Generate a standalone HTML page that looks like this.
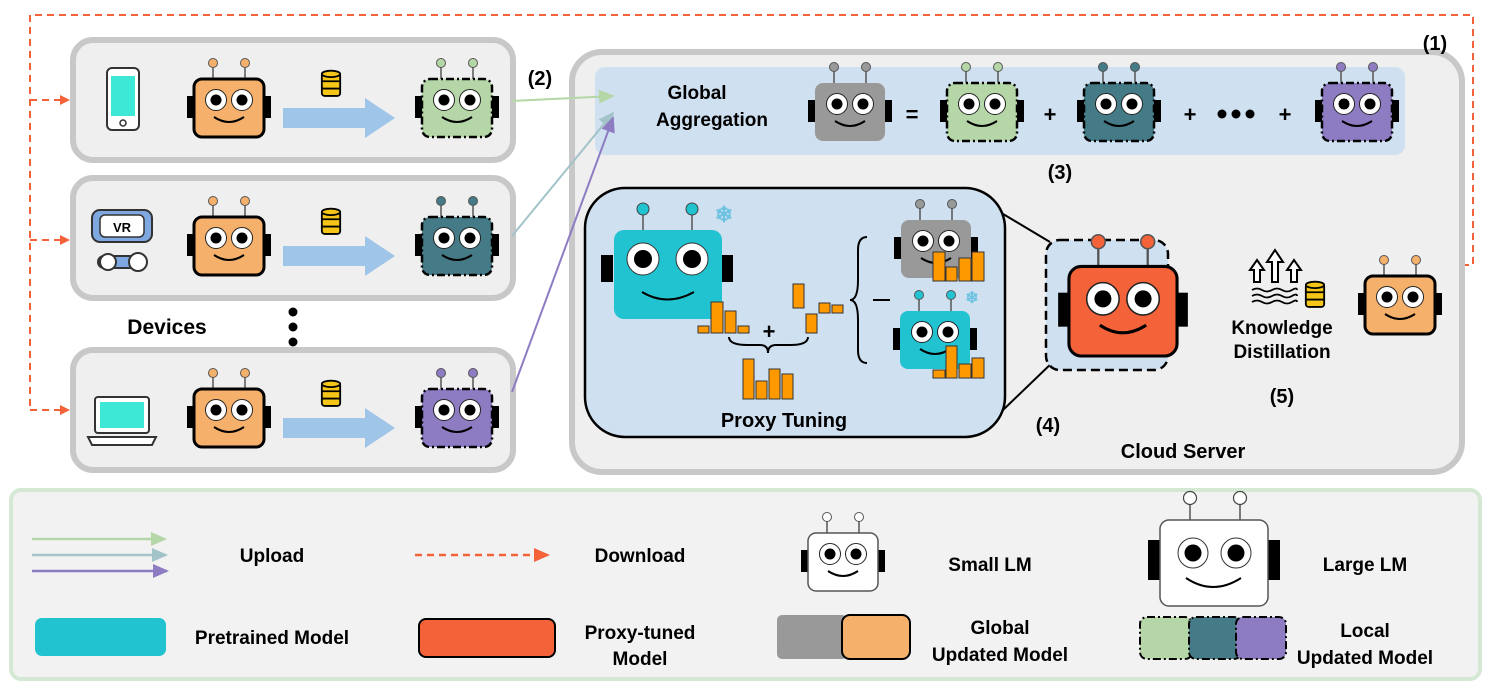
<!DOCTYPE html>
<html><head><meta charset="utf-8"><style>
html,body{margin:0;padding:0;background:#fff;width:1495px;height:691px;overflow:hidden}
text{font-family:"Liberation Sans",sans-serif;font-weight:bold;fill:#000}
</style></head><body>
<svg width="1495" height="691" viewBox="0 0 1495 691" xmlns="http://www.w3.org/2000/svg">
<defs>
<symbol id="r" viewBox="0 0 84 90">
 <rect x="0" y="38" width="7" height="22" fill="#000" stroke="none"/>
 <rect x="77" y="38" width="7" height="22" fill="#000" stroke="none"/>
 <line x1="26" y1="8" x2="26" y2="21" stroke="#555" stroke-width="1.5" stroke-dasharray="none"/>
 <line x1="58" y1="8" x2="58" y2="21" stroke="#555" stroke-width="1.5" stroke-dasharray="none"/>
 <circle cx="26" cy="5" r="4.5" stroke="#555" stroke-width="1" stroke-dasharray="none"/>
 <circle cx="58" cy="5" r="4.5" stroke="#555" stroke-width="1" stroke-dasharray="none"/>
 <rect x="7" y="21" width="70" height="58" rx="8"/>
 <circle cx="29" cy="42" r="10.5" fill="#fff" stroke="#222" stroke-width="1" stroke-dasharray="none"/>
 <circle cx="55" cy="42" r="10.5" fill="#fff" stroke="#222" stroke-width="1" stroke-dasharray="none"/>
 <circle cx="29" cy="42" r="5.5" fill="#000" stroke="none"/>
 <circle cx="55" cy="42" r="5.5" fill="#000" stroke="none"/>
 <path d="M27 59 Q42 69 57 59" fill="none" stroke="#000" stroke-width="2" stroke-dasharray="none"/>
</symbol>
<symbol id="db" viewBox="0 0 24 32">
 <rect x="2" y="4" width="20" height="25" rx="3" fill="#f5c518" stroke="#000" stroke-width="2"/>
 <ellipse cx="12" cy="5" rx="10" ry="3.5" fill="#f5c518" stroke="#000" stroke-width="2"/>
 <line x1="2" y1="13" x2="22" y2="13" stroke="#000" stroke-width="2"/>
 <line x1="2" y1="21" x2="22" y2="21" stroke="#000" stroke-width="2"/>
</symbol>
<marker id="ao" markerWidth="10" markerHeight="10" refX="8" refY="5" orient="auto" markerUnits="userSpaceOnUse"><path d="M0 0 L10 5 L0 10z" fill="#f4623a"/></marker>
<marker id="ag" markerWidth="16" markerHeight="14" refX="14" refY="7" orient="auto" markerUnits="userSpaceOnUse"><path d="M0 0 L16 7 L0 14z" fill="#b5d7a8"/></marker>
<marker id="at" markerWidth="16" markerHeight="14" refX="14" refY="7" orient="auto" markerUnits="userSpaceOnUse"><path d="M0 0 L16 7 L0 14z" fill="#a2c4c9"/></marker>
<marker id="ap" markerWidth="16" markerHeight="14" refX="14" refY="7" orient="auto" markerUnits="userSpaceOnUse"><path d="M0 0 L16 7 L0 14z" fill="#8e7cc3"/></marker>
<marker id="ao2" markerWidth="16" markerHeight="14" refX="14" refY="7" orient="auto" markerUnits="userSpaceOnUse"><path d="M0 0 L16 7 L0 14z" fill="#f4623a"/></marker>
</defs>

<!-- download dashed -->
<g fill="none" stroke="#f4623a" stroke-width="2" stroke-dasharray="7 5">
<path d="M1462 265 L1473 265 L1473 15 L30 15 L30 410"/>
<line x1="30" y1="100" x2="68" y2="100" marker-end="url(#ao)"/>
<line x1="30" y1="240" x2="68" y2="240" marker-end="url(#ao)"/>
<line x1="30" y1="410" x2="68" y2="410" marker-end="url(#ao)"/>
</g>

<!-- device boxes -->
<g fill="#efefef" stroke="#c8c8c8" stroke-width="6">
<rect x="73" y="40" width="440" height="120" rx="20"/>
<rect x="73" y="178" width="440" height="120" rx="20"/>
<rect x="73" y="350" width="440" height="120" rx="20"/>
</g>
<!-- phone -->
<rect x="107" y="68" width="32" height="62" rx="5" fill="#fff" stroke="#333" stroke-width="2"/>
<rect x="111" y="76" width="24" height="40" fill="#3ee8d6"/>
<circle cx="123" cy="123" r="3" fill="none" stroke="#333" stroke-width="1.5"/>
<!-- VR -->
<rect x="92" y="210" width="60" height="32" rx="8" fill="#7fa7e0" stroke="#333" stroke-width="2"/>
<rect x="100" y="215" width="44" height="22" rx="5" fill="#fff" stroke="#333" stroke-width="1.5"/>
<text x="122" y="232" font-size="13" text-anchor="middle">VR</text>
<rect x="98" y="256" width="44" height="12" rx="6" fill="#7fa7e0" stroke="#333" stroke-width="2"/>
<circle cx="108" cy="262" r="8" fill="#fff" stroke="#333" stroke-width="2"/>
<circle cx="138" cy="262" r="9" fill="#fff" stroke="#333" stroke-width="2"/>
<!-- laptop -->
<rect x="95" y="397" width="54" height="36" rx="3" fill="#fff" stroke="#333" stroke-width="2"/>
<rect x="100" y="402" width="44" height="26" fill="#3ee8d6"/>
<path d="M88 437 L156 437 L152 445 L92 445 Z" fill="#fff" stroke="#333" stroke-width="2"/>

<!-- rows -->
<g>
<use href="#r" x="187" y="58" width="84" height="90" fill="#f5b06b" stroke="#000" stroke-width="3"/>
<use href="#r" x="187" y="196" width="84" height="90" fill="#f5b06b" stroke="#000" stroke-width="3"/>
<use href="#r" x="187" y="368" width="84" height="90" fill="#f5b06b" stroke="#000" stroke-width="3"/>
<use href="#db" x="320" y="68" width="22" height="32"/>
<use href="#db" x="320" y="206" width="22" height="32"/>
<use href="#db" x="320" y="378" width="22" height="32"/>
<path d="M283 108 L365 108 L365 98 L395 118 L365 138 L365 128 L283 128Z" fill="#9fc5e8"/>
<path d="M283 246 L365 246 L365 236 L395 256 L365 276 L365 266 L283 266Z" fill="#9fc5e8"/>
<path d="M283 418 L365 418 L365 408 L395 428 L365 448 L365 438 L283 438Z" fill="#9fc5e8"/>
<use href="#r" x="415" y="58" width="84" height="90" fill="#b5d7a8" stroke="#000" stroke-width="2.5" stroke-dasharray="8 3 2 3"/>
<use href="#r" x="415" y="196" width="84" height="90" fill="#457b87" stroke="#000" stroke-width="2.5" stroke-dasharray="8 3 2 3"/>
<use href="#r" x="415" y="368" width="84" height="90" fill="#8e7cc3" stroke="#000" stroke-width="2.5" stroke-dasharray="8 3 2 3"/>
</g>
<text x="167" y="334" font-size="21" text-anchor="middle">Devices</text>
<circle cx="293" cy="312" r="4.5"/><circle cx="293" cy="327" r="4.5"/><circle cx="293" cy="342" r="4.5"/>
<text x="540" y="85" font-size="20" text-anchor="middle">(2)</text>

<!-- cloud -->
<rect x="572" y="52" width="890" height="420" rx="30" fill="#efefef" stroke="#c8c8c8" stroke-width="6"/>
<text x="1435" y="50" font-size="20" text-anchor="middle">(1)</text>
<rect x="595" y="67" width="810" height="88" rx="10" fill="#cfe0f0"/>
<text x="697" y="99" font-size="19" text-anchor="middle">Global</text>
<text x="712" y="126" font-size="19" text-anchor="middle">Aggregation</text>
<use href="#r" x="808" y="62" width="84" height="90" fill="#999" stroke="none"/>
<text x="912" y="122" font-size="22" text-anchor="middle" font-weight="normal">=</text>
<use href="#r" x="940" y="62" width="84" height="90" fill="#b5d7a8" stroke="#000" stroke-width="2.5" stroke-dasharray="8 3 2 3"/>
<text x="1050" y="122" font-size="22" text-anchor="middle" font-weight="normal">+</text>
<use href="#r" x="1077" y="62" width="84" height="90" fill="#457b87" stroke="#000" stroke-width="2.5" stroke-dasharray="8 3 2 3"/>
<text x="1190" y="122" font-size="22" text-anchor="middle" font-weight="normal">+</text>
<circle cx="1222" cy="114" r="4.5"/><circle cx="1236" cy="114" r="4.5"/><circle cx="1250" cy="114" r="4.5"/>
<text x="1285" y="122" font-size="22" text-anchor="middle" font-weight="normal">+</text>
<use href="#r" x="1315" y="62" width="84" height="90" fill="#8e7cc3" stroke="#000" stroke-width="2.5" stroke-dasharray="8 3 2 3"/>
<text x="1060" y="179" font-size="20" text-anchor="middle">(3)</text>

<!-- upload arrows -->
<line x1="512" y1="101" x2="613" y2="96" stroke="#b5d7a8" stroke-width="2" marker-end="url(#ag)"/>
<line x1="512" y1="236" x2="613" y2="113" stroke="#a2c4c9" stroke-width="2" marker-end="url(#at)"/>
<line x1="512" y1="392" x2="613" y2="118" stroke="#8e7cc3" stroke-width="2" marker-end="url(#ap)"/>

<!-- proxy tuning -->
<line x1="963" y1="190" x2="1050" y2="242" stroke="#000" stroke-width="2"/>
<line x1="1003" y1="410" x2="1055" y2="360" stroke="#000" stroke-width="2"/>
<rect x="585" y="188" width="420" height="249" rx="40" fill="#cfe0f0" stroke="#000" stroke-width="2.5"/>
<g>
 <rect x="601" y="255" width="12" height="27" fill="#000"/><rect x="721" y="255" width="12" height="27" fill="#000"/>
 <line x1="643" y1="214" x2="643" y2="230" stroke="#555" stroke-width="1.5"/><line x1="692" y1="214" x2="692" y2="230" stroke="#555" stroke-width="1.5"/>
 <circle cx="643" cy="209" r="6" fill="#22c3d0" stroke="#444"/><circle cx="692" cy="209" r="6" fill="#22c3d0" stroke="#444"/>
 <rect x="614" y="230" width="108" height="89" rx="10" fill="#22c3d0"/>
 <circle cx="643" cy="259" r="16" fill="#fff" stroke="#333"/><circle cx="692" cy="259" r="16" fill="#fff" stroke="#333"/>
 <circle cx="643" cy="259" r="9" fill="#000"/><circle cx="692" cy="259" r="9" fill="#000"/>
 <path d="M642 292 Q667 307 694 292" fill="none" stroke="#000" stroke-width="2"/>
</g>
<text x="724" y="222" font-size="22" style="fill:#6cc2e0" text-anchor="middle" font-weight="normal">❄</text>
<g fill="#f90" stroke="#333" stroke-width="1">
 <rect x="698" y="326" width="11" height="7"/><rect x="711" y="302" width="12" height="31"/><rect x="725" y="311" width="11" height="22"/><rect x="738" y="326" width="11" height="7"/>
 <rect x="793" y="284" width="11" height="24"/><rect x="806" y="314" width="11" height="19"/><rect x="819" y="303" width="11" height="10"/><rect x="832" y="305" width="11" height="8"/>
 <rect x="743" y="359" width="11" height="40"/><rect x="756" y="381" width="11" height="18"/><rect x="769" y="369" width="11" height="30"/><rect x="782" y="374" width="11" height="25"/>
</g>
<text x="769" y="339" font-size="22" text-anchor="middle" font-weight="normal">+</text>
<path d="M729 337 Q729 345 748 345 L760 345 Q768 345 768 353 Q768 345 776 345 L790 345 Q808 345 808 337" fill="none" stroke="#000" stroke-width="2"/>
<path d="M867 237 Q858 237 858 250 L858 280 Q858 300 850 300 Q858 300 858 320 L858 350 Q858 363 867 363" fill="none" stroke="#000" stroke-width="2"/>
<line x1="873" y1="300" x2="890" y2="300" stroke="#000" stroke-width="2"/>
<use href="#r" x="894" y="199" width="84" height="90" fill="#999" stroke="none"/>
<use href="#r" x="893" y="290" width="84" height="90" fill="#22c3d0" stroke="none"/>
<text x="972" y="303" font-size="16" style="fill:#6cc2e0" text-anchor="middle" font-weight="normal">❄</text>
<g fill="#f90" stroke="#333" stroke-width="1">
 <rect x="933" y="252" width="12" height="29"/><rect x="946" y="267" width="11" height="14"/><rect x="959" y="258" width="12" height="23"/><rect x="972" y="252" width="12" height="29"/>
 <rect x="933" y="370" width="12" height="8"/><rect x="946" y="346" width="11" height="32"/><rect x="959" y="364" width="12" height="14"/><rect x="972" y="358" width="12" height="20"/>
</g>
<text x="784" y="427" font-size="20" text-anchor="middle">Proxy Tuning</text>
<text x="1048" y="432" font-size="20" text-anchor="middle">(4)</text>

<rect x="1046" y="240" width="122" height="130" rx="14" fill="#cfe0f0" stroke="#000" stroke-width="2.5" stroke-dasharray="9 5"/>
<use href="#r" x="1058" y="234" width="130" height="139" fill="#f4623a" stroke="#000" stroke-width="2"/>

<!-- KD icon -->
<g fill="#fff" stroke="#000" stroke-width="2">
 <path d="M1254 282 L1254 270 L1250 270 L1257 260 L1264 270 L1260 270 L1260 282Z"/>
 <path d="M1272 282 L1272 262 L1267 262 L1275 250 L1283 262 L1278 262 L1278 282Z"/>
 <path d="M1291 282 L1291 270 L1287 270 L1294 260 L1301 270 L1297 270 L1297 282Z"/>
</g>
<g fill="none" stroke="#000" stroke-width="1.8">
 <path d="M1252 290 q5 -3 10 0 t10 0 t10 0 t10 0 t5 0"/>
 <path d="M1252 296 q5 -3 10 0 t10 0 t10 0 t10 0 t5 0"/>
 <path d="M1252 302 q5 -3 10 0 t10 0 t10 0 t10 0 t5 0"/>
</g>
<use href="#db" x="1304" y="280" width="22" height="30"/>
<text x="1282" y="334" font-size="19" text-anchor="middle">Knowledge</text>
<text x="1282" y="358" font-size="19" text-anchor="middle">Distillation</text>
<text x="1282" y="403" font-size="20" text-anchor="middle">(5)</text>
<use href="#r" x="1358" y="255" width="84" height="90" fill="#f5b06b" stroke="#000" stroke-width="3"/>
<text x="1183" y="458" font-size="20" text-anchor="middle">Cloud Server</text>

<!-- legend -->
<rect x="11" y="490" width="1469" height="189" rx="10" fill="#f2f2f2" stroke="#d5e8d4" stroke-width="4"/>
<line x1="32" y1="539" x2="165" y2="539" stroke="#b5d7a8" stroke-width="2.5" marker-end="url(#ag)"/>
<line x1="32" y1="555" x2="166" y2="555" stroke="#a2c4c9" stroke-width="2.5" marker-end="url(#at)"/>
<line x1="32" y1="571" x2="167" y2="571" stroke="#8e7cc3" stroke-width="2.5" marker-end="url(#ap)"/>
<text x="272" y="562" font-size="19" text-anchor="middle">Upload</text>
<line x1="415" y1="555" x2="548" y2="555" stroke="#f4623a" stroke-width="2.5" stroke-dasharray="7 5" marker-end="url(#ao2)"/>
<text x="640" y="562" font-size="19" text-anchor="middle">Download</text>
<use href="#r" x="801" y="512" width="84" height="90" fill="#fff" stroke="#555" stroke-width="1.5"/>
<text x="990" y="571" font-size="19" text-anchor="middle">Small LM</text>
<!-- large LM -->
<g>
 <rect x="1148" y="540" width="12" height="40" fill="#000"/><rect x="1268" y="540" width="12" height="40" fill="#000"/>
 <line x1="1190" y1="503" x2="1190" y2="520" stroke="#555" stroke-width="1.5"/><line x1="1240" y1="503" x2="1240" y2="520" stroke="#555" stroke-width="1.5"/>
 <circle cx="1190" cy="498" r="6.5" fill="#fff" stroke="#444" stroke-width="1.2"/><circle cx="1240" cy="498" r="6.5" fill="#fff" stroke="#444" stroke-width="1.2"/>
 <rect x="1160" y="520" width="108" height="86" rx="9" fill="#fff" stroke="#555" stroke-width="1.5"/>
 <circle cx="1193" cy="553" r="15" fill="#fff" stroke="#333"/><circle cx="1236" cy="553" r="15" fill="#fff" stroke="#333"/>
 <circle cx="1193" cy="553" r="8.5" fill="#000"/><circle cx="1236" cy="553" r="8.5" fill="#000"/>
 <path d="M1186 578 Q1213 596 1241 578" fill="none" stroke="#000" stroke-width="2"/>
</g>
<text x="1365" y="571" font-size="19" text-anchor="middle">Large LM</text>
<rect x="35" y="618" width="131" height="38" rx="7" fill="#22c3d0"/>
<text x="272" y="644" font-size="19" text-anchor="middle">Pretrained Model</text>
<rect x="419" y="619" width="136" height="38" rx="7" fill="#f4623a" stroke="#000" stroke-width="2"/>
<text x="640" y="639" font-size="19" text-anchor="middle">Proxy-tuned</text>
<text x="640" y="665" font-size="19" text-anchor="middle">Model</text>
<rect x="777" y="615" width="70" height="44" rx="5" fill="#999"/>
<rect x="842" y="615" width="68" height="44" rx="8" fill="#f5b06b" stroke="#000" stroke-width="2"/>
<text x="1000" y="634" font-size="19" text-anchor="middle">Global</text>
<text x="1000" y="661" font-size="19" text-anchor="middle">Updated Model</text>
<rect x="1140" y="617" width="52" height="42" rx="7" fill="#b5d7a8" stroke="#000" stroke-width="2" stroke-dasharray="8 3 2 3"/>
<rect x="1189" y="617" width="52" height="42" rx="7" fill="#457b87" stroke="#000" stroke-width="2" stroke-dasharray="8 3 2 3"/>
<rect x="1236" y="617" width="50" height="42" rx="7" fill="#8e7cc3" stroke="#000" stroke-width="2" stroke-dasharray="8 3 2 3"/>
<text x="1365" y="637" font-size="19" text-anchor="middle">Local</text>
<text x="1365" y="664" font-size="19" text-anchor="middle">Updated Model</text>
</svg>
</body></html>
